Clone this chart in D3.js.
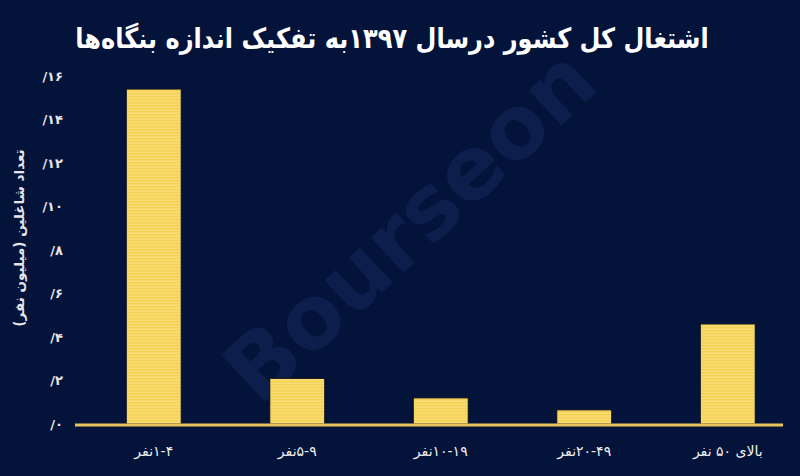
<!DOCTYPE html>
<html>
<head>
<meta charset="utf-8">
<script src="https://cdn.jsdelivr.net/npm/d3@7/dist/d3.min.js"></script>
<style>
  html, body { margin: 0; padding: 0; background: #03133a; }
  svg { display: block; }
</style>
</head>
<body>
<svg id="chart" width="800" height="476"></svg>
<script>
// Text pieces in logical (reading) order; " " = word space, "" = joined without space
const titlePieces = ["اشتغال", " ", "کل", " ", "کشور", " ", "درسال", " ", "۱۳۹۷", "", "به", " ", "تفکیک", " ", "اندازه", " ", "بنگاه\u200Cها"];
const categories = ["1-4", "5-9", "10-19", "20-49", "50+"];
const categoryPieces = [
  ["۱-۴", "", "نفر"],
  ["۵-۹", "", "نفر"],
  ["۱۰-۱۹", "", "نفر"],
  ["۲۰-۴۹", "", "نفر"],
  ["بالای", " ", "۵۰", " ", "نفر"]
];
const values = [15.4, 2.1, 1.2, 0.65, 4.6];
const yTicks = [0, 2, 4, 6, 8, 10, 12, 14, 16];
const yTickLabels = ["/۰", "/۲", "/۴", "/۶", "/۸", "/۱۰", "/۱۲", "/۱۴", "/۱۶"];
const yTitlePieces = ["تعداد", " ", "شاغلین", " ", "(میلیون", " ", "نفر)"];
const watermark = "Bourseon";

const svg = d3.select("#chart");
const W = 800, H = 476;
const FONT = "'DejaVu Sans', 'Noto Sans', sans-serif";

svg.append("rect").attr("width", W).attr("height", H).attr("fill", "#03133a");

// stripe pattern for bars
const defs = svg.append("defs");
const pat = defs.append("pattern").attr("id", "stripes")
  .attr("patternUnits", "userSpaceOnUse").attr("width", 8).attr("height", 3);
pat.append("rect").attr("width", 8).attr("height", 3).attr("fill", "#f4d150");
pat.append("rect").attr("y", 1.6).attr("width", 8).attr("height", 1).attr("fill", "#fae48c");

// watermark
svg.append("text")
  .attr("transform", "translate(414,230) rotate(-43)")
  .attr("text-anchor", "middle").attr("dominant-baseline", "middle")
  .attr("font-family", FONT).attr("font-weight", "bold").attr("font-size", 88)
  .attr("fill", "#0c1e4c")
  .text(watermark);

const x = d3.scaleBand().domain(categories).range([82, 799.5])
  .paddingInner(0.617).paddingOuter(0.3085);
const y = d3.scaleLinear().domain([0, 16]).range([424, 76]);

// bars
svg.append("g").selectAll("rect").data(values).join("rect")
  .attr("x", (d, i) => x(categories[i]))
  .attr("y", d => y(d))
  .attr("width", x.bandwidth())
  .attr("height", d => y(0) - y(d))
  .attr("fill", "url(#stripes)")
  .attr("stroke", "#0a0f1e").attr("stroke-width", 1);

// y axis (tick labels only)
const yAxis = d3.axisLeft(y).tickValues(yTicks)
  .tickFormat((d, i) => yTickLabels[i]).tickSize(0).tickPadding(0);
const gy = svg.append("g").attr("transform", "translate(63,0)").call(yAxis);
gy.select(".domain").remove();
gy.selectAll("text").attr("font-family", FONT).attr("font-size", 13)
  .attr("font-weight", "bold").attr("fill", "#e6e6ea");

// x axis baseline
svg.append("line").attr("x1", 75).attr("x2", 783).attr("y1", y(0) + 1).attr("y2", y(0) + 1)
  .attr("stroke", "#e9c45c").attr("stroke-width", 3);

// helper: right-to-left run of separate text pieces, centred on the group's origin
function placeRunRTL(parent, pieces, size, weight, fill) {
  const g = parent.append("g");
  const mk = s => g.append("text").attr("font-family", FONT).attr("font-size", size)
    .attr("font-weight", weight).text(s);
  const p1 = mk("a a"), p2 = mk("aa");
  const spaceW = p1.node().getComputedTextLength() - p2.node().getComputedTextLength();
  p1.remove(); p2.remove();
  const items = [];
  let total = 0;
  pieces.forEach(p => {
    if (p === " ") { total += spaceW; items.push({ space: spaceW }); return; }
    if (p === "") return;
    const t = g.append("text").attr("y", 0)
      .attr("text-anchor", "middle").attr("dominant-baseline", "middle")
      .attr("direction", "rtl")
      .attr("font-family", FONT).attr("font-size", size).attr("font-weight", weight)
      .attr("fill", fill).text(p);
    const w = t.node().getComputedTextLength();
    total += w;
    items.push({ t, w });
  });
  let cur = total / 2;
  items.forEach(it => {
    if (it.space !== undefined) { cur -= it.space; return; }
    it.t.attr("x", cur - it.w / 2);
    cur -= it.w;
  });
  return g;
}

// x labels
const gx = svg.append("g");
categories.forEach((c, i) => {
  placeRunRTL(gx, categoryPieces[i], 14, "normal", "#f0f0f0")
    .attr("transform", `translate(${x(c) + x.bandwidth() / 2},452)`);
});

// y title
placeRunRTL(svg, yTitlePieces, 13.5, "bold", "#e6e6ea")
  .attr("transform", "translate(20,238) rotate(-90)");

// title
placeRunRTL(svg, titlePieces, 28, "bold", "#ffffff")
  .attr("transform", "translate(392,40) scale(0.86,1)");
</script>
</body>
</html>
